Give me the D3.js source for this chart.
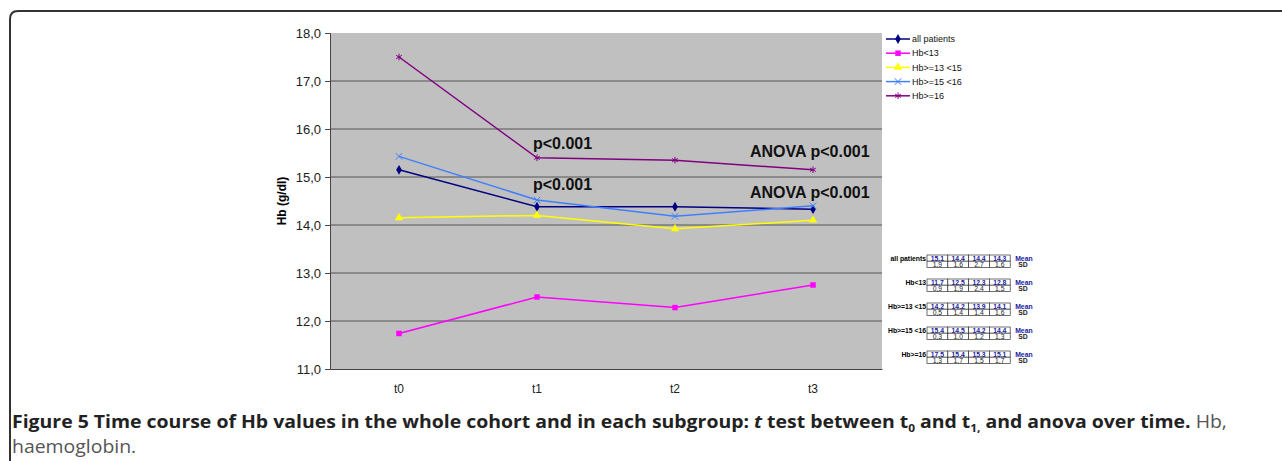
<!DOCTYPE html>
<html lang="en">
<head>
<meta charset="utf-8">
<title>Hb time course</title>
<script src="https://cdn.jsdelivr.net/npm/d3@7"></script>
<style>
  body { margin: 0; background: #fff; }
  svg { display: block; }
  .tick text { font-family: Arial, "Liberation Sans", sans-serif; }
</style>
</head>
<body>
<svg width="1282" height="461"></svg>
<script>
// data
var timepoints = ["t0", "t1", "t2", "t3"];
var groups = ["all patients", "Hb<13", "Hb>=13 <15", "Hb>=15 <16", "Hb>=16"];
var allPatients = [15.15, 14.38, 14.38, 14.33];
var hbUnder13 = [11.74, 12.5, 12.28, 12.75];
var hb13to15 = [14.15, 14.2, 13.92, 14.1];
var hb15to16 = [15.43, 14.52, 14.18, 14.4];
var hbOver16 = [17.5, 15.4, 15.35, 15.15];
var yTicks = [11, 12, 13, 14, 15, 16, 17, 18];

// table under the legend (mean / SD)
var tableLabels = ["all patients", "Hb<13", "Hb>=13 <15", "Hb>=15 <16", "Hb>=16"];
var tableMeans = [["15,1", "14,4", "14,4", "14,3"], ["11,7", "12,5", "12,3", "12,8"],
                  ["14,2", "14,2", "13,9", "14,1"], ["15,4", "14,5", "14,2", "14,4"],
                  ["17,5", "15,4", "15,3", "15,1"]];
var tableSDs = [["1,9", "1,6", "2,7", "1,6"], ["0,9", "1,9", "2,4", "1,5"],
                ["0,5", "1,4", "1,4", "1,6"], ["0,3", "1,0", "1,2", "1,3"],
                ["1,3", "1,7", "1,5", "1,7"]];

var series = [
  {name: groups[0], values: allPatients, color: "#000080", marker: "diamond"},
  {name: groups[1], values: hbUnder13, color: "#ff00ff", marker: "square"},
  {name: groups[2], values: hb13to15, color: "#ffff00", marker: "triangle"},
  {name: groups[3], values: hb15to16, color: "#3f7fff", marker: "cross"},
  {name: groups[4], values: hbOver16, color: "#800080", marker: "star"}
];

var svg = d3.select("svg");
var font = "Arial, 'Liberation Sans', sans-serif";

// figure frame (rounded top-left corner)
svg.append("path")
  .attr("d", "M10,470 L10,19 Q10,11 18,11 L1290,11")
  .attr("fill", "none").attr("stroke", "#333").attr("stroke-width", 2);

var plot = {left: 330, right: 882, top: 33, bottom: 369};

var x = d3.scaleBand().domain(timepoints).range([plot.left, plot.right]);
var y = d3.scaleLinear().domain([11, 18]).range([plot.bottom, plot.top]);

svg.append("rect")
  .attr("x", plot.left).attr("y", plot.top)
  .attr("width", plot.right - plot.left).attr("height", plot.bottom - plot.top)
  .attr("fill", "#c0c0c0");

// gridlines
svg.append("g").selectAll("line").data(yTicks.slice(1, -1)).join("line")
  .attr("x1", plot.left).attr("x2", plot.right)
  .attr("y1", function(d) { return y(d); }).attr("y2", function(d) { return y(d); })
  .attr("stroke", "#555").attr("stroke-width", 1.2);

// y axis
var yAxis = svg.append("g").attr("transform", "translate(" + plot.left + ",0)")
  .call(d3.axisLeft(y).tickValues(yTicks).tickSize(5).tickPadding(4)
    .tickFormat(function(d) { return d3.format(".1f")(d).replace(".", ","); }));
yAxis.selectAll("text").attr("font-size", 13).attr("fill", "#222");
yAxis.selectAll("line, path").attr("stroke", "#444");

// x axis
var xAxis = svg.append("g").attr("transform", "translate(0," + plot.bottom + ")")
  .call(d3.axisBottom(x).tickSize(0).tickPadding(15));
xAxis.selectAll("text").attr("font-size", 12).attr("fill", "#222");
xAxis.select("path").attr("stroke", "#444");

svg.append("text")
  .attr("transform", "translate(286," + y(14.5) + ") rotate(-90)")
  .attr("text-anchor", "middle")
  .attr("font-family", font).attr("font-weight", "bold").attr("font-size", 12)
  .text("Hb (g/dl)");

var cx = function(i) { return x(timepoints[i]) + x.bandwidth() / 2; };

var markerPath = {
  diamond: d3.symbol().type(d3.symbolDiamond).size(28),
  square: d3.symbol().type(d3.symbolSquare).size(30),
  triangle: d3.symbol().type(d3.symbolTriangle).size(30),
  cross: d3.symbol().type(d3.symbolX).size(30),
  star: d3.symbol().type(d3.symbolAsterisk).size(30)
};
function isStroked(m) { return m === "cross" || m === "star"; }

var line = d3.line().x(function(d, i) { return cx(i); }).y(function(d) { return y(d); });

series.forEach(function(s) {
  svg.append("path").datum(s.values)
    .attr("d", line).attr("fill", "none")
    .attr("stroke", s.color).attr("stroke-width", 1.5);
  svg.append("g").selectAll("path").data(s.values).join("path")
    .attr("transform", function(d, i) { return "translate(" + cx(i) + "," + y(d) + ")"; })
    .attr("d", markerPath[s.marker]())
    .attr("fill", isStroked(s.marker) ? "none" : s.color)
    .attr("stroke", s.color).attr("stroke-width", isStroked(s.marker) ? 1 : 0);
});

// annotations
var notes = [
  {text: "p<0.001", xi: 1, dx: -4, val: 15.58},
  {text: "p<0.001", xi: 1, dx: -4, val: 14.73},
  {text: "ANOVA p<0.001", xi: 3, dx: -63, val: 15.42},
  {text: "ANOVA p<0.001", xi: 3, dx: -63, val: 14.56}
];
svg.append("g").selectAll("text").data(notes).join("text")
  .attr("x", function(d) { return cx(d.xi) + d.dx; })
  .attr("y", function(d) { return y(d.val); })
  .attr("font-family", font).attr("font-weight", "bold").attr("font-size", 16)
  .attr("fill", "#111")
  .text(function(d) { return d.text; });

// legend
var legend = svg.append("g").attr("transform", "translate(886,39)");
var lg = legend.selectAll("g").data(series).join("g")
  .attr("transform", function(d, i) { return "translate(0," + i * 14.2 + ")"; });
lg.append("line").attr("x1", 0).attr("x2", 24)
  .attr("stroke", function(d) { return d.color; }).attr("stroke-width", 1.5);
lg.append("path").attr("transform", "translate(12,0)")
  .attr("d", function(d) { return markerPath[d.marker](); })
  .attr("fill", function(d) { return isStroked(d.marker) ? "none" : d.color; })
  .attr("stroke", function(d) { return d.color; })
  .attr("stroke-width", function(d) { return isStroked(d.marker) ? 1 : 0; });
lg.append("text").attr("x", 26).attr("dy", "0.35em")
  .attr("font-family", font).attr("font-size", 9).attr("fill", "#111")
  .text(function(d) { return d.name; });

// mean / SD table
var cellW = 20.8, rowH = 6.2, tableX = 927, tfs = 6.8;
var tbl = svg.append("g");
tableLabels.forEach(function(label, g) {
  var top = 255 + g * 24;
  var grp = tbl.append("g").attr("transform", "translate(0," + top + ")");
  grp.append("text").attr("x", tableX - 1).attr("y", rowH - 0.5)
    .attr("text-anchor", "end").attr("font-family", font)
    .attr("font-weight", "bold").attr("font-size", tfs).text(label);
  [tableMeans[g], tableSDs[g]].forEach(function(row, r) {
    row.forEach(function(v, c) {
      grp.append("rect").attr("x", tableX + c * cellW).attr("y", r * rowH)
        .attr("width", cellW).attr("height", rowH)
        .attr("fill", "#fff").attr("stroke", "#333").attr("stroke-width", 0.7);
      grp.append("text").attr("x", tableX + c * cellW + cellW / 2).attr("y", r * rowH + rowH - 0.5)
        .attr("text-anchor", "middle").attr("font-family", font)
        .attr("font-weight", r === 0 ? "bold" : "normal").attr("font-size", tfs)
        .attr("fill", r === 0 ? "#2020a0" : "#222").text(v);
    });
    grp.append("text").attr("x", tableX + 4 * cellW + 5 + (r === 0 ? 0 : 3)).attr("y", r * rowH + rowH - 0.5)
      .attr("font-family", font).attr("font-weight", "bold").attr("font-size", tfs)
      .attr("fill", r === 0 ? "#2020a0" : "#222").text(r === 0 ? "Mean" : "SD");
  });
});

// caption
var cap = svg.append("text").attr("x", 12).attr("y", 428)
  .attr("font-family", "'Open Sans', sans-serif").attr("font-size", 18).attr("fill", "#222");
cap.append("tspan").attr("font-weight", "bold")
  .text("Figure 5 Time course of Hb values in the whole cohort and in each subgroup: ");
cap.append("tspan").attr("font-weight", "bold").attr("font-style", "italic").text("t");
cap.append("tspan").attr("font-weight", "bold").text(" test between t");
cap.append("tspan").attr("font-weight", "bold").attr("font-size", 11).attr("dy", 4).text("0");
cap.append("tspan").attr("font-weight", "bold").attr("dy", -4).text(" and t");
cap.append("tspan").attr("font-weight", "bold").attr("font-size", 11).attr("dy", 4).text("1,");
cap.append("tspan").attr("font-weight", "bold").attr("dy", -4).text(" and anova over time.");
cap.append("tspan").attr("fill", "#555").text(" Hb,");
var w = cap.node().getComputedTextLength();
cap.attr("transform", "translate(12,0) scale(" + (1216 / w) + ",1) translate(-12,0)");

var cap2 = svg.append("text").attr("x", 12).attr("y", 453)
  .attr("font-family", "'Open Sans', sans-serif").attr("font-size", 18).attr("fill", "#555")
  .text("haemoglobin.");
cap2.attr("transform", "translate(12,0) scale(" + (1216 / w) + ",1) translate(-12,0)");
</script>
</body>
</html>
